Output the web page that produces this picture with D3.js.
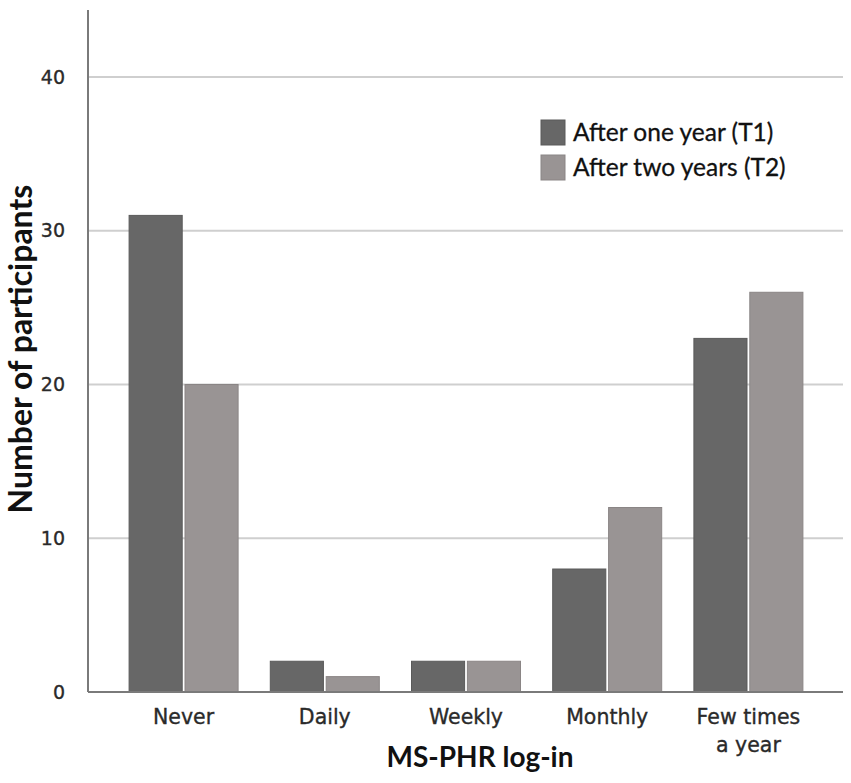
<!DOCTYPE html>
<html>
<head>
	<meta charset="utf-8">
	<title>MS-PHR log-in</title>
	<script src="https://d3js.org/d3.v7.min.js"></script>
	<style>
		body { margin: 0; background: #fff; }
		.tick text { font-family: "DejaVu Sans", Verdana, sans-serif; fill: #2a2a2a; stroke: #2a2a2a; stroke-width: 0.35px; }
		.axis-title { font-family: Lato, "Open Sans", sans-serif; font-weight: bold; fill: #111; }
		.legend text { font-family: Lato, "Open Sans", sans-serif; fill: #111; stroke: #111; stroke-width: 0.3px; }
	</style>
</head>
<body>
	<div id="chartDiv"></div>
	<script>
		const categories = ['Never', 'Daily', 'Weekly', 'Monthly', 'Few times|a year'];
		const seriesNames = ['After one year (T1)', 'After two years (T2)'];
		const t1Values = [31, 2, 2, 8, 23];
		const t2Values = [20, 1, 2, 12, 26];
		const yTicks = [0, 10, 20, 30, 40];

		const colors = ['#676767', '#999494'];
		const strokes = ['#5a5a5a', '#8a8585'];

		const width = 851, height = 783;
		const margin = { left: 88, right: 8, top: 10, bottom: 91 };
		const innerW = width - margin.left - margin.right;
		const innerH = height - margin.top - margin.bottom;

		const data = categories.map((c, i) => ({ cat: c, values: [t1Values[i], t2Values[i]] }));

		const svg = d3.select('#chartDiv').append('svg')
			.attr('width', width)
			.attr('height', height);
		const g = svg.append('g').attr('transform', `translate(${margin.left},${margin.top})`);

		//scales
		const xScale = d3.scaleBand()
			.domain(categories)
			.range([25, 731])
			.paddingInner(0)
			.paddingOuter(0);
		const inner = d3.scaleBand()
			.domain([0, 1])
			.range([(xScale.bandwidth() - 109) / 2, (xScale.bandwidth() + 109) / 2])
			.paddingInner(0.05);
		const yScale = d3.scaleLinear()
			.domain([0, 44.36])
			.range([innerH, 0]);

		//gridlines
		g.append('g').selectAll('line')
			.data(yTicks.filter(d => d > 0))
			.join('line')
			.attr('x1', 0).attr('x2', innerW)
			.attr('y1', d => yScale(d)).attr('y2', d => yScale(d))
			.attr('stroke', '#cfcfcf')
			.attr('stroke-width', 2);

		//bars
		const groups = g.append('g').selectAll('g')
			.data(data)
			.join('g')
			.attr('transform', d => `translate(${xScale(d.cat)},0)`);
		groups.selectAll('rect')
			.data(d => d.values.map((v, k) => ({ v, k })))
			.join('rect')
			.attr('x', d => inner(d.k))
			.attr('width', inner.bandwidth())
			.attr('y', d => yScale(d.v))
			.attr('height', d => innerH - yScale(d.v))
			.attr('fill', d => colors[d.k])
			.attr('stroke', d => strokes[d.k])
			.attr('stroke-width', 1);

		//axes
		const yAxis = d3.axisLeft(yScale).tickValues(yTicks).tickSize(0).tickPadding(23);
		const yAxisG = g.append('g').call(yAxis);
		yAxisG.select('.domain').remove();
		yAxisG.selectAll('.tick text').style('font-size', '19px');

		g.append('line')
			.attr('x1', 0).attr('x2', 0)
			.attr('y1', 0).attr('y2', innerH)
			.attr('stroke', '#7a7a7a').attr('stroke-width', 2);
		g.append('line')
			.attr('x1', 0).attr('x2', innerW)
			.attr('y1', innerH).attr('y2', innerH)
			.attr('stroke', '#7a7a7a').attr('stroke-width', 2);

		const xAxisG = g.append('g')
			.attr('transform', `translate(0,${innerH})`)
			.call(d3.axisBottom(xScale).tickSize(0).tickFormat(''));
		xAxisG.select('.domain').remove();
		xAxisG.selectAll('.tick').each(function(d) {
			const lines = d.split('|');
			const t = d3.select(this).append('text')
				.attr('text-anchor', 'middle')
				.style('font-size', '20.5px');
			lines.forEach((l, i) => {
				t.append('tspan').attr('x', 0).attr('y', 32 + i * 28).text(l);
			});
		});

		//axis titles
		svg.append('text')
			.attr('class', 'axis-title')
			.attr('x', 480).attr('y', 767)
			.attr('text-anchor', 'middle')
			.style('font-size', '28px')
			.text('MS-PHR log-in');
		svg.append('text')
			.attr('class', 'axis-title')
			.attr('transform', 'translate(32,349) rotate(-90)')
			.attr('text-anchor', 'middle')
			.style('font-size', '32px')
			.text('Number of participants');

		//legend
		const legend = svg.append('g').attr('class', 'legend')
			.attr('transform', 'translate(541,120)');
		const li = legend.selectAll('g')
			.data(seriesNames)
			.join('g')
			.attr('transform', (d, i) => `translate(0,${i * 35})`);
		li.append('rect')
			.attr('width', 24).attr('height', 25)
			.attr('fill', (d, i) => colors[i])
			.attr('stroke', (d, i) => strokes[i]);
		li.append('text')
			.attr('x', 32).attr('y', 21)
			.style('font-size', '24.5px')
			.text(d => d);
	</script>
</body>
</html>
